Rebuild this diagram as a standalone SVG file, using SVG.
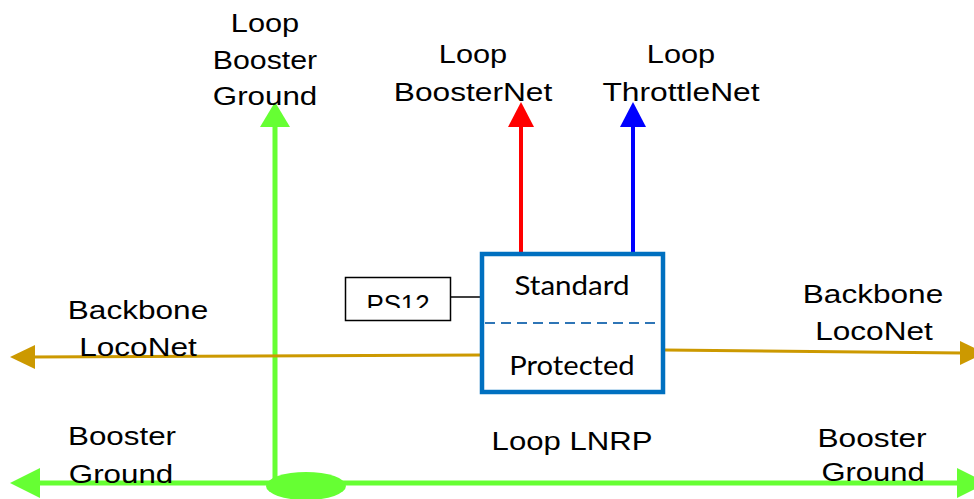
<svg xmlns="http://www.w3.org/2000/svg" width="974" height="499" viewBox="0 0 974 499">
<style>
.lbl{font-family:"Liberation Sans",Arial,sans-serif;font-size:26px;fill:#000;text-anchor:middle}
.cal{font-family:Lato,"Open Sans",sans-serif;font-size:27px;fill:#000;text-anchor:middle}
.g{stroke:#66FF33;stroke-width:5;fill:none}
.gf{fill:#66FF33}
.o{stroke:#CC9900;stroke-width:3;fill:none}
.of{fill:#CC9900}
</style>
<defs>
<clipPath id="psclip"><rect x="346" y="278" width="104" height="30"/></clipPath>
</defs>
<rect width="974" height="499" fill="#fff"/>
<g id="connectors">
<line class="g" x1="275" y1="484" x2="275" y2="122"/>
<polygon class="gf" points="260,127 290,127 275,102"/>
<line class="g" x1="30" y1="483" x2="962" y2="483"/>
<polygon class="gf" points="40,468 40,498 10,483"/>
<polygon class="gf" points="957,468 957,498 987,483"/>
<ellipse class="gf" cx="306" cy="486" rx="40" ry="14"/>
<line class="o" x1="482" y1="355" x2="30" y2="357"/>
<polygon class="of" points="35,345 35,369 10,357"/>
<line class="o" x1="665" y1="350" x2="962" y2="353"/>
<polygon class="of" points="960,341 960,365 985,353"/>
<line stroke="#FF0000" stroke-width="4" x1="521" y1="252" x2="521" y2="122"/>
<polygon fill="#FF0000" points="508,127 534,127 521,102"/>
<line stroke="#0000FF" stroke-width="4" x1="633" y1="252" x2="633" y2="122"/>
<polygon fill="#0000FF" points="620,127 646,127 633,102"/>
<line stroke="#000" stroke-width="1.5" x1="451" y1="297" x2="482" y2="297"/>
</g>
<g id="lnrp">
<rect x="482" y="254" width="181" height="138" fill="#fff" stroke="#0070C0" stroke-width="4.5"/>
<line x1="485" y1="323" x2="661" y2="323" stroke="#2E75B6" stroke-width="2" stroke-dasharray="10 6"/>
<text class="cal" transform="matrix(1.15 0 0 1 572 0)" x="0" y="295" textLength="100" lengthAdjust="spacingAndGlyphs">Standard</text>
<text class="cal" transform="matrix(1.15 0 0 1 572 0)" x="0" y="375" textLength="109" lengthAdjust="spacingAndGlyphs">Protected</text>
</g>
<g id="ps12">
<rect x="345.5" y="277.5" width="105" height="43" fill="#fff" stroke="#000" stroke-width="1.5"/>
<g clip-path="url(#psclip)">
<text class="lbl" transform="matrix(1.15 0 0 1 398 0)" x="0" y="313" font-size="22" textLength="55" lengthAdjust="spacingAndGlyphs">PS12</text>
</g>
</g>
<g id="loop-booster-ground">
<text class="lbl" transform="matrix(1.2 0 0 1 265 0)" x="0" y="32" textLength="57" lengthAdjust="spacingAndGlyphs">Loop</text>
<text class="lbl" transform="matrix(1.2 0 0 1 265 0)" x="0" y="69" textLength="87" lengthAdjust="spacingAndGlyphs">Booster</text>
<text class="lbl" transform="matrix(1.2 0 0 1 265 0)" x="0" y="105" textLength="87" lengthAdjust="spacingAndGlyphs">Ground</text>
</g>
<g id="loop-boosternet">
<text class="lbl" transform="matrix(1.2 0 0 1 473 0)" x="0" y="63" textLength="57" lengthAdjust="spacingAndGlyphs">Loop</text>
<text class="lbl" transform="matrix(1.2 0 0 1 473 0)" x="0" y="101" textLength="132" lengthAdjust="spacingAndGlyphs">BoosterNet</text>
</g>
<g id="loop-throttlenet">
<text class="lbl" transform="matrix(1.2 0 0 1 681 0)" x="0" y="63" textLength="57" lengthAdjust="spacingAndGlyphs">Loop</text>
<text class="lbl" transform="matrix(1.2 0 0 1 681 0)" x="0" y="101" textLength="131" lengthAdjust="spacingAndGlyphs">ThrottleNet</text>
</g>
<g id="backbone-left">
<text class="lbl" transform="matrix(1.2 0 0 1 138 0)" x="0" y="319" textLength="117" lengthAdjust="spacingAndGlyphs">Backbone</text>
<text class="lbl" transform="matrix(1.2 0 0 1 138 0)" x="0" y="356" textLength="98" lengthAdjust="spacingAndGlyphs">LocoNet</text>
</g>
<g id="backbone-right">
<text class="lbl" transform="matrix(1.2 0 0 1 873 0)" x="0" y="303" textLength="117" lengthAdjust="spacingAndGlyphs">Backbone</text>
<text class="lbl" transform="matrix(1.2 0 0 1 874 0)" x="0" y="340" textLength="98" lengthAdjust="spacingAndGlyphs">LocoNet</text>
</g>
<g id="booster-ground-left">
<text class="lbl" transform="matrix(1.2 0 0 1 122 0)" x="0" y="445" textLength="90" lengthAdjust="spacingAndGlyphs">Booster</text>
<text class="lbl" transform="matrix(1.2 0 0 1 121 0)" x="0" y="483" textLength="87" lengthAdjust="spacingAndGlyphs">Ground</text>
</g>
<g id="booster-ground-right">
<text class="lbl" transform="matrix(1.2 0 0 1 872 0)" x="0" y="447" textLength="91" lengthAdjust="spacingAndGlyphs">Booster</text>
<text class="lbl" transform="matrix(1.2 0 0 1 873 0)" x="0" y="481" textLength="86" lengthAdjust="spacingAndGlyphs">Ground</text>
</g>
<g id="loop-lnrp-label">
<text class="lbl" transform="matrix(1.2 0 0 1 572 0)" x="0" y="450" textLength="134" lengthAdjust="spacingAndGlyphs">Loop LNRP</text>
</g>
</svg>
